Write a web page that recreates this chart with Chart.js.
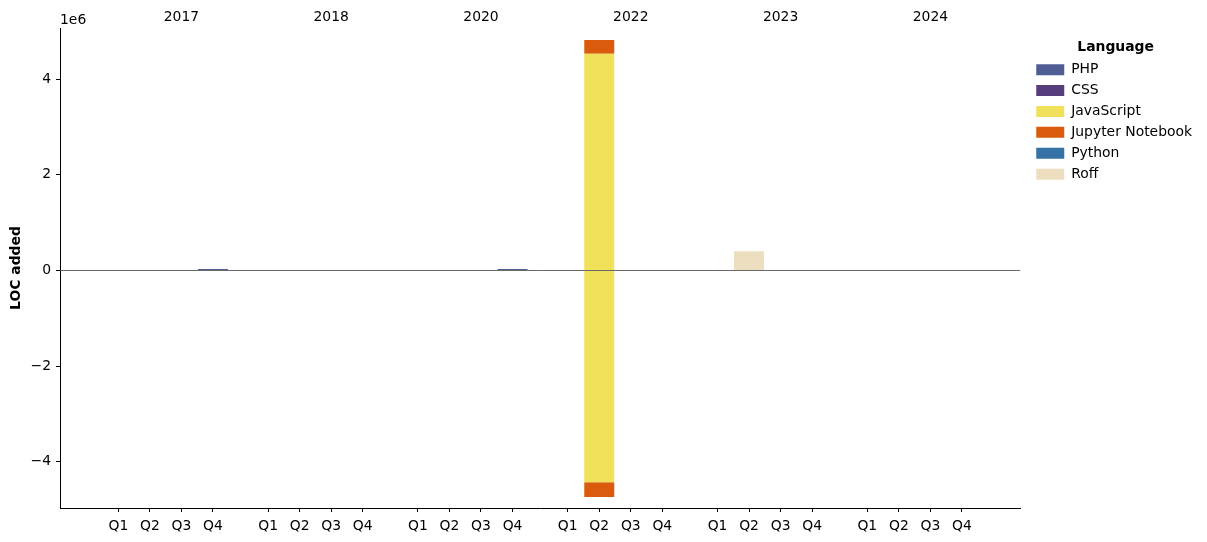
<!DOCTYPE html>
<html>
<head>
<meta charset="utf-8">
<script src="https://cdn.jsdelivr.net/npm/chart.js@4.4.1/dist/chart.umd.min.js"></script>
<style>
  html, body { margin: 0; padding: 0; background: #fff; }
  #wrap { width: 1207px; height: 542px; }
</style>
</head>
<body>
<div id="wrap"><canvas id="chart"></canvas></div>
<script>
const years = ['2017', '2018', '2020', '2022', '2023', '2024'];
const quarters = ['Q1', 'Q2', 'Q3', 'Q4'];
const languages = ['PHP', 'CSS', 'JavaScript', 'Jupyter Notebook', 'Python', 'Roff'];
const colors = ['#4f5d95', '#563d7c', '#f1e05a', '#da5b0b', '#3572a5', '#ecdebe'];

// LOC per quarter: 6 years x 4 quarters
const phpAdded     = [0, 0, 0, 30000,  0, 0, 0, 0,  0, 0, 0, 30000,  0, 0, 0, 0,  0, 0, 0, 0,  0, 0, 0, 0];
const cssAdded     = [0, 0, 0, 0,      0, 0, 0, 0,  0, 0, 0, 0,      0, 0, 0, 0,  0, 0, 0, 0,  0, 0, 0, 0];
const jsAdded      = [0, 0, 0, 0,      0, 0, 0, 0,  0, 0, 0, 0,      0, 4530000, 0, 0,  0, 0, 0, 0,  0, 0, 0, 0];
const jupyterAdded = [0, 0, 0, 0,      0, 0, 0, 0,  0, 0, 0, 0,      0, 290000, 0, 0,   0, 0, 0, 0,  0, 0, 0, 0];
const pythonAdded  = [0, 0, 0, 0,      0, 0, 0, 0,  0, 0, 0, 0,      0, 0, 0, 0,  0, 0, 0, 0,  0, 0, 0, 0];
const roffAdded    = [0, 0, 0, 0,      0, 0, 0, 0,  0, 0, 0, 0,      0, 0, 0, 0,  0, 400000, 0, 0,  0, 0, 0, 0];

const jsRemoved      = [0, 0, 0, 0,  0, 0, 0, 0,  0, 0, 0, 0,  0, -4430000, 0, 0,  0, 0, 0, 0,  0, 0, 0, 0];
const jupyterRemoved = [0, 0, 0, 0,  0, 0, 0, 0,  0, 0, 0, 0,  0, -310000, 0, 0,   0, 0, 0, 0,  0, 0, 0, 0];

const yTicks = [-4000000, -2000000, 0, 2000000, 4000000];

const groupGap = 0.75;
function slot(i) {
    const g = Math.floor(i / quarters.length);
    const q = i % quarters.length;
    return g * (quarters.length + groupGap) + q;
}
const slotCount = years.length * quarters.length;
const slots = Array.from({ length: slotCount }, (_, i) => slot(i));
const xMin = -1.85;
const xMax = slots[slotCount - 1] + 1.85;

function points(values) {
    return values.map((v, i) => ({ x: slots[i], y: v }));
}

const addedSeries = [phpAdded, cssAdded, jsAdded, jupyterAdded, pythonAdded, roffAdded];
const datasets = languages.map((lang, i) => ({
    label: lang,
    data: points(addedSeries[i]),
    backgroundColor: colors[i],
    borderWidth: 0
}));
datasets.push({ label: 'JavaScript', data: points(jsRemoved), backgroundColor: colors[2], borderWidth: 0 });
datasets.push({ label: 'Jupyter Notebook', data: points(jupyterRemoved), backgroundColor: colors[3], borderWidth: 0 });

const font = { family: 'DejaVu Sans', size: 13.9 };

const zeroLine = {
    id: 'zeroLine',
    afterDatasetsDraw(chart) {
        const { ctx, chartArea, scales } = chart;
        const y = Math.round(scales.y.getPixelForValue(0)) + 0.5;
        ctx.save();
        ctx.strokeStyle = '#444';
        ctx.lineWidth = 0.8;
        ctx.beginPath();
        ctx.moveTo(chartArea.left, y);
        ctx.lineTo(chartArea.right, y);
        ctx.stroke();
        ctx.restore();
    }
};

const offsetText = {
    id: 'offsetText',
    afterDraw(chart) {
        const { ctx, chartArea } = chart;
        ctx.save();
        ctx.font = '13.9px "DejaVu Sans"';
        ctx.fillStyle = '#000';
        ctx.textAlign = 'left';
        ctx.textBaseline = 'bottom';
        ctx.fillText('1e6', chartArea.left, chartArea.top - 1);
        ctx.restore();
    }
};

// nudge the legend a bit away from the plot, like matplotlib's bbox_to_anchor
const legendShift = {
    id: 'legendShift',
    afterUpdate(chart) {
        const legend = chart.legend;
        if (!legend) return;
        legend.left += 9;
        legend.right += 9;
        if (legend.adjustHitBoxes) legend.adjustHitBoxes();
    }
};

new Chart(document.getElementById('chart'), {
    type: 'bar',
    data: { datasets: datasets },
    plugins: [zeroLine, offsetText, legendShift],
    options: {
        responsive: true,
        maintainAspectRatio: false,
        animation: false,
        layout: { padding: { left: 0, right: 14, top: 0, bottom: 0 } },
        datasets: { bar: { barPercentage: 1, categoryPercentage: 0.95 } },
        plugins: {
            tooltip: { enabled: false },
            legend: {
                position: 'right',
                align: 'start',
                title: {
                    display: true,
                    text: 'Language',
                    font: { family: 'DejaVu Sans', size: 13.9, weight: 'bold' },
                    color: '#000',
                    padding: { top: 40, bottom: -1 }
                },
                labels: {
                    filter: item => item.datasetIndex < languages.length,
                    boxWidth: 28,
                    boxHeight: 11,
                    padding: 7,
                    color: '#000',
                    font: font
                }
            }
        },
        scales: {
            x: {
                type: 'linear',
                position: 'bottom',
                stacked: true,
                offset: false,
                min: xMin,
                max: xMax,
                afterBuildTicks: scale => { scale.ticks = slots.map(v => ({ value: v })); },
                afterFit: scale => { scale.height = 34; },
                grid: { offset: false, drawOnChartArea: false, tickLength: 4, tickColor: '#000' },
                border: { display: true, color: '#000', width: 1 },
                ticks: {
                    autoSkip: false,
                    maxRotation: 0,
                    color: '#000',
                    font: font,
                    padding: 6,
                    callback: (value, index) => quarters[index % quarters.length]
                }
            },
            x2: {
                type: 'linear',
                axis: 'x',
                position: 'top',
                offset: false,
                min: xMin,
                max: xMax,
                afterBuildTicks: scale => { scale.ticks = years.map((y, g) => ({ value: slots[g * quarters.length + 2] })); },
                afterFit: scale => { scale.height = 28; },
                grid: { display: false },
                border: { display: false },
                ticks: {
                    autoSkip: false,
                    maxRotation: 0,
                    color: '#000',
                    font: font,
                    padding: -6,
                    callback: (value, index) => years[index]
                }
            },
            y: {
                stacked: true,
                min: -4970000,
                max: 5070000,
                afterBuildTicks: scale => { scale.ticks = yTicks.map(v => ({ value: v })); },
                afterFit: scale => { scale.width = 60; },
                grid: { drawOnChartArea: false, tickLength: 4, tickColor: '#000' },
                border: { display: true, color: '#000', width: 1 },
                title: {
                    display: true,
                    text: 'LOC added',
                    color: '#000',
                    font: { family: 'DejaVu Sans', size: 13.9, weight: 'bold' },
                    padding: { top: 8, bottom: 0 }
                },
                ticks: {
                    color: '#000',
                    font: font,
                    padding: 5,
                    callback: v => v === 0 ? '0' : String(v / 1e6).replace('-', '\u2212')
                }
            }
        }
    }
});
</script>
</body>
</html>
